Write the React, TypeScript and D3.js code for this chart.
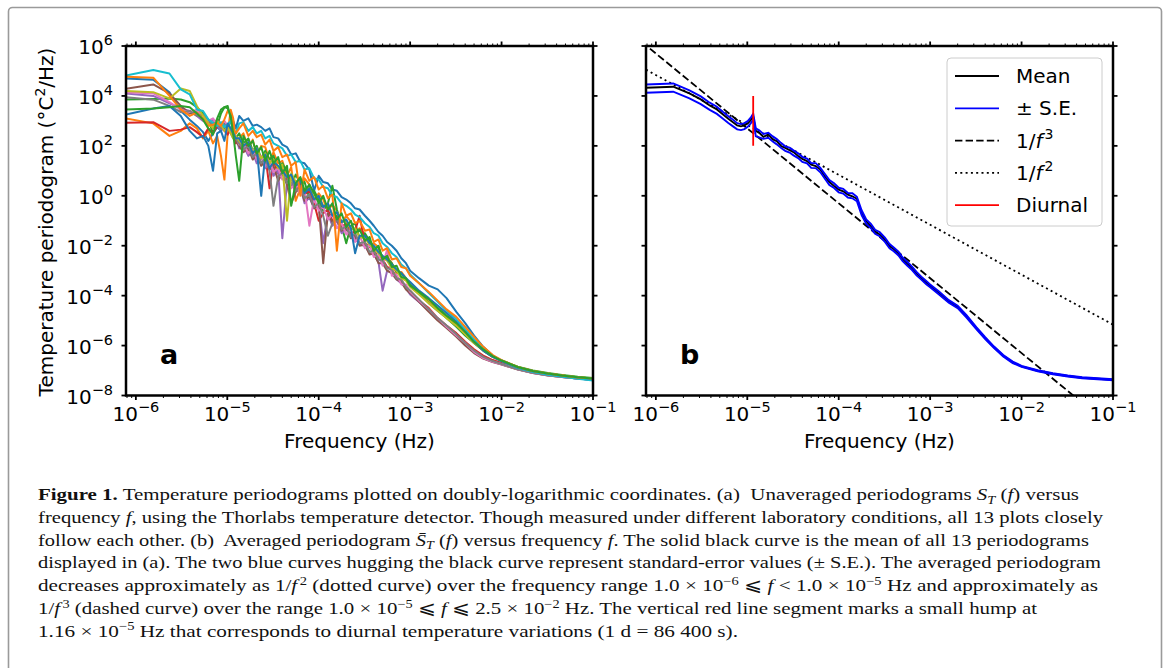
import React from 'react';
import * as d3 from 'd3';

// Frequencies (Hz) shared by every periodogram
const freq = [
  7.8e-7, 1.55e-6, 2.33e-6, 3.1e-6, 3.88e-6, 4.65e-6, 5.43e-6, 6.2e-6, 6.98e-6, 7.75e-6, 8.53e-6, 9.3e-6, 1.01e-5, 1.09e-5, 1.16e-5, 1.24e-5,
  1.35e-5, 1.5e-5, 1.7e-5, 1.9e-5, 2.1e-5, 2.35e-5, 2.6e-5, 2.9e-5, 3.2e-5, 3.6e-5, 4.0e-5, 4.5e-5, 5.0e-5, 5.6e-5, 6.3e-5, 7.0e-5, 7.9e-5, 8.9e-5, 1.0e-4, 1.12e-4,
  1.26e-4, 1.41e-4, 1.58e-4, 1.78e-4, 2.0e-4, 2.25e-4, 2.5e-4, 2.8e-4, 3.2e-4, 3.6e-4, 4.0e-4, 4.5e-4, 5.0e-4, 5.6e-4, 6.3e-4, 7.1e-4, 8.0e-4, 9.0e-4, 1.0e-3,
  1.25e-3, 1.6e-3, 2.0e-3, 2.5e-3, 3.2e-3, 4.0e-3, 5.0e-3, 6.3e-3, 8.0e-3, 1.0e-2, 1.5e-2, 2.2e-2, 3.2e-2, 4.6e-2, 6.8e-2, 1.0e-1,
];

// log10 of each unaveraged periodogram (°C²/Hz), panel a
const run01 = [4.7, 4.65, 4.15, 3.4, 3.05, 2.8, 2.55, 2.2, 2.5, 2.75, 2.6, 2.9, 2.8, 2.95, 3.0, 2.7,
  3.2, 3.0, 3.1, 2.8, 2.85, 2.75, 2.6, 2.7, 2.35, 2.3, 2.05, 1.95, 1.65, 1.7, 1.35, 1.3, 1.05, 0.2, 0.8, 0.55, 0.5, 0.25, 0.2, -0.05, -0.15, -0.3, -0.5, -0.55, -0.8, -1.0, -1.2, -1.45, -1.6, -1.85, -2.0, -2.2, -2.5, -2.7, -3.0,
  -3.3, -3.6, -3.75, -4.1, -4.65, -5.1, -5.6, -6.05, -6.4, -6.6, -6.88, -7.05, -7.16, -7.24, -7.32, -7.38];
const run02 = [3.1, 2.9, 2.4, 2.6, 2.9, 2.7, 2.3, 2.6, 2.1, 2.4, 1.6, 0.65, 2.5, 3.45, 3.1, 2.2,
  2.3, 2.5, 1.9, 2.25, 1.6, 2.0, 1.95, 1.4, 1.75, 1.3, 1.4, 0.8, 1.15, -0.2, 0.3, 0.7, 0.45, -0.2, 0.1, -0.15, -0.6, -0.35, -0.6, -1.1, -0.8, -1.05, -1.5, -1.3, -1.55, -2.0, -1.9, -2.05, -2.6, -2.45, -2.7, -3.1, -3.05, -3.3, -3.55,
  -3.85, -4.25, -4.55, -4.85, -5.15, -5.55, -5.9, -6.2, -6.45, -6.62, -6.88, -7.03, -7.13, -7.2, -7.27, -7.32];
const run03 = [3.86, 3.88, 3.9, 3.86, 3.75, 3.55, 3.3, 3.05, 2.5, 2.8, 3.3, 3.55, 3.6, 3.1, 2.5, 2.3,
  2.5, 2.1, 2.3, 1.8, 2.0, 1.5, 1.8, 1.45, 1.6, 1.0, 1.3, 0.95, 0.4, 0.85, 0.5, 0.55, -0.1, 0.2, -0.15, -0.6, -0.3, 0.4, -0.55, -1.2, -1.9, -1.2, -1.1, -1.7, -1.5, -1.8, -2.1, -2.05, -2.5, -2.5, -2.7, -3.05, -3.1, -3.35, -3.55,
  -3.9, -4.3, -4.6, -4.9, -5.25, -5.6, -5.9, -6.2, -6.45, -6.6, -6.85, -7.0, -7.1, -7.18, -7.25, -7.3];
const run04 = [2.93, 2.95, 2.6, 2.65, 2.75, 2.55, 2.35, 2.7, 2.5, 2.8, 2.9, 2.6, 2.45, 2.7, 2.4, 2.1,
  2.2, 1.9, 2.05, 1.6, 1.85, 1.5, 1.65, 0.3, 1.4, 0.9, 1.1, 0.6, 0.85, 0.3, 0.5, 0.05, 0.2, -0.3, -1.0, -0.7, -0.55, -1.0, -0.8, -1.25, -1.1, -1.55, -1.4, -0.8, -1.9, -2.05, -2.2, -2.45, -2.55, -2.85, -2.95, -3.25, -3.4, -3.65, -3.8,
  -4.2, -4.5, -4.9, -5.2, -5.5, -5.85, -6.15, -6.4, -6.58, -6.7, -6.92, -7.07, -7.17, -7.24, -7.3, -7.36];
const run05 = [4.1, 4.0, 3.7, 3.5, 3.4, 3.2, 3.0, 2.9, 3.05, 2.85, 2.6, 2.75, 2.8, 2.5, 2.3, 2.35,
  1.9, 2.0, 1.6, 1.75, 1.3, 1.55, 1.1, 1.35, 0.8, 1.05, -1.7, 0.6, 0.5, 0.2, 0.35, -0.3, -0.05, -0.5, -0.4, -1.9, -0.7, -1.2, -1.0, -1.5, -1.3, -1.65, -1.7, -1.95, -2.0, -2.3, -2.35, -2.65, -3.8, -3.0, -3.1, -3.35, -3.5, -3.7, -3.95,
  -4.25, -4.6, -4.95, -5.25, -5.6, -5.95, -6.25, -6.5, -6.65, -6.75, -6.95, -7.1, -7.19, -7.26, -7.32, -7.37];
const run06 = [4.29, 4.46, 4.1, 3.6, 3.3, 3.35, 3.1, 3.0, 2.9, 3.05, 2.8, 2.7, 2.85, 2.6, 2.4, 2.2,
  2.0, 1.75, 1.9, 1.45, 1.65, 1.2, 1.4, 1.05, 1.2, 0.6, 0.9, 0.45, -0.3, 0.15, 0.3, -0.2, 0.0, -0.5, -0.35, -2.7, -0.7, -1.05, -0.95, -1.4, -1.3, -1.7, -1.6, -2.0, -1.95, -2.35, -2.3, -2.7, -2.7, -3.0, -3.1, -3.35, -3.45, -3.75, -3.9,
  -4.25, -4.65, -5.0, -5.3, -5.65, -6.0, -6.3, -6.52, -6.66, -6.76, -6.96, -7.1, -7.2, -7.26, -7.32, -7.37];
const run07 = [4.15, 4.1, 3.75, 3.45, 3.35, 3.45, 3.2, 3.0, 3.1, 2.85, 2.9, 3.0, 2.8, 2.65, 2.55, 2.4,
  2.05, 2.1, 1.7, 1.85, 1.45, 1.6, 1.2, 1.4, 0.95, 1.1, 0.65, 0.8, 0.3, 0.5, 0.05, 0.25, -1.2, -0.1, -0.6, -0.45, -0.95, -0.75, -1.3, -1.1, -1.55, -1.35, -1.85, -1.6, -2.1, -1.95, -2.45, -2.35, -2.8, -2.15, -3.2, -3.15, -3.55, -3.55, -3.85,
  -4.2, -4.55, -4.9, -5.25, -5.6, -5.9, -6.25, -6.5, -6.65, -6.75, -6.95, -7.09, -7.19, -7.26, -7.32, -7.37];
const run08 = [3.95, 3.85, 3.6, 3.35, 3.4, 3.2, 3.25, 3.05, 2.8, 2.9, 2.7, 2.85, 2.75, 2.55, 2.6, 2.3,
  2.1, 1.85, 2.0, 1.55, 1.7, 1.3, 1.5, 1.0, -0.4, 0.75, 0.95, 0.5, 0.7, 0.2, 0.4, -0.1, 0.05, -0.45, -0.3, -0.8, -1.6, -1.1, -0.9, -1.35, -1.2, -1.65, -1.5, -1.9, -1.85, -2.25, -2.2, -2.55, -2.6, -2.9, -2.95, -3.3, -3.35, -3.65, -3.8,
  -4.15, -4.55, -4.9, -5.2, -5.55, -5.9, -6.2, -6.45, -6.62, -6.74, -6.95, -7.09, -7.19, -7.26, -7.32, -7.37];
const run09 = [4.2, 4.15, 3.9, 4.3, 4.2, 3.6, 3.2, 2.9, 2.7, 3.0, 2.85, 2.6, 2.75, 2.5, 2.3, 2.4,
  2.2, 2.0, 2.15, 1.75, 1.9, 1.5, 1.7, 1.3, 1.45, 1.1, 1.25, -1.0, 0.9, 0.55, 0.7, 0.2, 0.35, -0.1, 0.0, -0.4, -0.3, -0.75, -0.65, -1.05, -1.0, -1.35, -1.3, -1.65, -1.7, -1.95, -2.1, -2.3, -2.5, -2.6, -2.9, -3.0, -3.3, -3.4, -3.65,
  -3.95, -4.3, -4.6, -4.9, -5.2, -5.55, -5.9, -6.15, -6.42, -6.6, -6.86, -7.02, -7.12, -7.2, -7.27, -7.32];
const run10 = [4.82, 5.04, 4.9, 4.26, 4.06, 3.46, 3.4, 3.06, 2.92, 2.8, 2.95, 2.75, 2.85, 3.0, 2.6, 2.5,
  2.9, 2.95, 2.6, 2.75, 2.5, 2.6, 2.3, 2.4, 2.1, 2.0, 1.9, 1.6, 1.65, 1.35, 1.4, 1.05, 1.1, 0.7, 0.65, 0.35, 0.3, 0.0, -0.05, -0.3, -0.4, -0.55, -0.75, -0.85, -1.1, -1.25, -1.5, -1.6, -1.9, -2.05, -2.3, -2.45, -2.75, -2.9, -3.15,
  -3.5, -3.9, -4.25, -4.6, -4.95, -5.35, -5.75, -6.15, -6.42, -6.62, -6.9, -7.06, -7.17, -7.25, -7.33, -7.4];
const run11 = [3.26, 3.5, 3.6, 3.2, 2.6, 2.3, 2.4, 2.0, 1.0, 2.5, 2.6, 2.2, 2.9, 2.7, 2.5, 2.3,
  2.3, 2.0, 2.15, 1.7, 1.9, 0.0, 1.65, 1.1, 1.35, 1.2, 1.0, 0.75, 0.85, 0.4, 0.6, 0.1, 0.3, -0.15, 0.0, -0.45, -0.3, -0.8, -0.65, -1.05, -0.95, -1.3, -2.3, -1.6, -1.6, -1.9, -2.0, -2.25, -2.4, -2.55, -2.75, -2.95, -3.1, -3.3, -3.45,
  -3.8, -4.1, -4.4, -4.7, -5.05, -5.45, -5.85, -6.2, -6.45, -6.62, -6.88, -7.03, -7.13, -7.21, -7.28, -7.33];
const run12 = [4.77, 4.73, 4.0, 3.46, 3.2, 3.33, 3.06, 2.8, 2.85, 2.92, 2.8, 3.06, 3.4, 3.33, 2.7, 2.5,
  2.7, 2.9, 2.4, 2.6, 2.35, 2.45, 2.05, 2.25, 1.8, 1.95, 1.55, 1.65, 1.2, 1.35, 0.0, 1.05, 0.6, 0.75, 0.25, 0.4, -0.1, 0.05, -2.2, -0.3, -0.8, -0.7, -1.1, -1.0, -1.4, -1.35, -1.85, -1.75, -2.2, -2.1, -2.55, -2.5, -2.85, -2.9, -3.2,
  -3.5, -3.85, -4.2, -4.55, -4.85, -5.25, -5.65, -6.05, -6.38, -6.58, -6.86, -7.02, -7.12, -7.2, -7.28, -7.32];
const run13 = [3.46, 3.5, 3.55, 3.6, 3.55, 3.3, 3.05, 2.7, 2.45, 3.1, 3.45, 3.55, 3.5, 3.2, 2.5, 1.6,
  0.6, 2.4, 2.0, 2.2, 1.7, 1.95, 1.4, 1.8, 1.3, 1.55, 0.9, 1.2, -0.4, 0.5, 0.75, 0.2, 0.45, 0.1, -0.3, 0.0, -0.55, -0.3, -0.95, -0.7, -1.25, -1.0, -1.5, -1.35, -1.8, -1.65, -2.2, -2.0, -2.55, -2.4, -2.85, -2.8, -3.25, -3.3, -3.6,
  -3.85, -4.15, -4.5, -4.8, -5.1, -5.45, -5.85, -6.15, -6.42, -6.6, -6.86, -7.02, -7.12, -7.2, -7.27, -7.32];

const runs = [run01, run02, run03, run04, run05, run06, run07, run08, run09, run10, run11, run12, run13];
const runColors = ['#1f77b4', '#ff7f0e', '#2ca02c', '#d62728', '#9467bd', '#8c564b', '#e377c2',
  '#7f7f7f', '#bcbd22', '#17becf', '#1f77b4', '#ff7f0e', '#2ca02c'];

// log10 of averaged periodogram and ± standard error, panel b
const meanLog = [4.33, 4.37, 4.1, 3.86, 3.62, 3.46, 3.26, 3.09, 2.95, 2.82, 2.78, 2.82, 2.9, 3.03, 3.17, 2.6,
  2.52, 2.36, 2.46, 2.26, 2.19, 1.99, 1.92, 1.83, 1.75, 1.59, 1.48, 1.39, 1.25, 1.19, 1.05, 0.79, 0.55, 0.39, 0.25, 0.18, 0.05, -0.02, -0.12, -0.68, -1.02, -1.22, -1.42, -1.55, -1.75, -2.02, -2.13, -2.32, -2.53, -2.72, -2.89, -3.12, -3.29, -3.47, -3.6,
  -3.89, -4.23, -4.45, -4.83, -5.3, -5.7, -6.07, -6.41, -6.67, -6.83, -7.01, -7.13, -7.22, -7.29, -7.33, -7.37];
const seUpperLog = [4.46, 4.5, 4.22, 3.98, 3.73, 3.57, 3.36, 3.19, 3.05, 2.91, 2.87, 2.91, 2.99, 3.13, 3.29, 2.7,
  2.62, 2.48, 2.52, 2.38, 2.27, 2.11, 1.98, 1.93, 1.82, 1.7, 1.56, 1.49, 1.31, 1.31, 1.12, 0.89, 0.63, 0.5, 0.32, 0.28, 0.11, 0.1, -0.04, -0.58, -0.95, -1.13, -1.36, -1.45, -1.68, -1.93, -2.07, -2.24, -2.47, -2.64, -2.83, -3.05, -3.24, -3.4, -3.55,
  -3.83, -4.18, -4.4, -4.78, -5.26, -5.66, -6.04, -6.38, -6.64, -6.81, -6.99, -7.11, -7.2, -7.27, -7.31, -7.35];
const seLowerLog = [4.13, 4.17, 3.9, 3.67, 3.44, 3.28, 3.09, 2.92, 2.78, 2.66, 2.63, 2.67, 2.76, 2.9, 3.05, 2.38,
  2.34, 2.28, 2.32, 2.17, 2.06, 1.91, 1.8, 1.73, 1.62, 1.51, 1.36, 1.3, 1.12, 1.11, 0.94, 0.7, 0.43, 0.31, 0.14, 0.09, -0.07, -0.1, -0.22, -0.77, -1.13, -1.3, -1.52, -1.62, -1.85, -2.1, -2.22, -2.39, -2.62, -2.79, -2.97, -3.19, -3.36, -3.53, -3.66,
  -3.95, -4.28, -4.5, -4.88, -5.34, -5.74, -6.1, -6.44, -6.7, -6.85, -7.03, -7.15, -7.24, -7.31, -7.35, -7.39];

// reference power laws and the diurnal marker: [frequency, value]
const invCube = [[7.0e-7, 1.46e6], [4.0e-2, 7.8e-9]];
const invSquare = [[7.8e-7, 1.13e5], [1.0e-1, 6.9e-6]];
const diurnal = [[1.16e-5, 1e2], [1.16e-5, 1e4]];

const xDomain = [7.8e-7, 1e-1];
const yDomain = [1e-8, 1e6];
const xTickExps = [-6, -5, -4, -3, -2, -1];
const yTickExps = [6, 4, 2, 0, -2, -4, -6, -8];

const legendItems = [
  { label: 'Mean', color: '#000000', dash: '' },
  { label: '± S.E.', color: '#0000ff', dash: '' },
  { label: 'inv3', color: '#000000', dash: '7.4,3.2' },
  { label: 'inv2', color: '#000000', dash: '2,3.3' },
  { label: 'Diurnal', color: '#ff0000', dash: '' },
];

type Seg = [string, string?];
const captionLines: Seg[][] = [
  [['Figure 1.', 'b'], [' Temperature periodograms plotted on doubly-logarithmic coordinates. (a)  Unaveraged periodograms '], ['S', 'i'], ['T', 'sub'], [' ('], ['f', 'i'], [') versus']],
  [['frequency '], ['f', 'i'], [', using the Thorlabs temperature detector. Though measured under different laboratory conditions, all 13 plots closely']],
  [['follow each other. (b)  Averaged periodogram '], ['S\u0304', 'i'], ['T', 'sub'], [' ('], ['f', 'i'], [') versus frequency '], ['f', 'i'], ['. The solid black curve is the mean of all 13 periodograms']],
  [['displayed in (a). The two blue curves hugging the black curve represent standard-error values (± S.E.). The averaged periodogram']],
  [['decreases approximately as 1/'], ['f', 'i'], ['2', 'sup'], [' (dotted curve) over the frequency range 1.0 × 10'], ['−6', 'sup'], [' ⩽ '], ['f', 'i'], [' < 1.0 × 10'], ['−5', 'sup'], [' Hz and approximately as']],
  [['1/'], ['f', 'i'], ['3', 'sup'], [' (dashed curve) over the range 1.0 × 10'], ['−5', 'sup'], [' ⩽ '], ['f', 'i'], [' ⩽ 2.5 × 10'], ['−2', 'sup'], [' Hz. The vertical red line segment marks a small hump at']],
  [['1.16 × 10'], ['−5', 'sup'], [' Hz that corresponds to diurnal temperature variations (1 d = 86 400 s).']],
];
const captionWidths = [1041, 1065, 1051, 1063, 1060, 999, 700];

const W = 1170;
const H = 668;
const TOP = 46;
const PW = 467;
const PH = 349.5;
const FONT = 'DejaVu Sans, sans-serif';

const pow = (v: number) => Math.pow(10, v);

function Panel({ left, id, letter, yLabels, children }: any) {
  const x = d3.scaleLog().domain(xDomain).range([left, left + PW]);
  const y = d3.scaleLog().domain(yDomain).range([TOP + PH, TOP]);
  const bottom = TOP + PH;
  const minor = x.ticks().filter(t => Math.abs(Math.log10(t) - Math.round(Math.log10(t))) > 1e-6);
  const sup = (e: number) => (e < 0 ? '\u2212' + -e : String(e));
  return (
    <g>
      <defs>
        <clipPath id={id}>
          <rect x={left} y={TOP} width={PW} height={PH} />
        </clipPath>
      </defs>
      <g clipPath={`url(#${id})`}>{children(x, y)}</g>
      {minor.map((t, i) => (
        <g key={'m' + i} stroke="#000" strokeWidth={1}>
          <line x1={x(t)} x2={x(t)} y1={bottom} y2={bottom + 2.5} />
          <line x1={x(t)} x2={x(t)} y1={TOP} y2={TOP - 2.5} />
        </g>
      ))}
      {xTickExps.map(e => (
        <g key={'x' + e}>
          <line x1={x(pow(e))} x2={x(pow(e))} y1={bottom} y2={bottom + 4.5} stroke="#000" strokeWidth={1.8} />
          <line x1={x(pow(e))} x2={x(pow(e))} y1={TOP} y2={TOP - 4.5} stroke="#000" strokeWidth={1.8} />
          <text x={x(pow(e))} y={bottom + 25.5} textAnchor="middle" fontSize={20} fontFamily={FONT}>
            10<tspan dy={-9} fontSize={14.5}>{sup(e)}</tspan>
          </text>
        </g>
      ))}
      {yTickExps.map(e => (
        <g key={'y' + e}>
          <line x1={left} x2={left - 4.5} y1={y(pow(e))} y2={y(pow(e))} stroke="#000" strokeWidth={1.8} />
          <line x1={left + PW} x2={left + PW + 4.5} y1={y(pow(e))} y2={y(pow(e))} stroke="#000" strokeWidth={1.8} />
          {yLabels && (
            <text x={left - 13} y={y(pow(e)) + 8} textAnchor="end" fontSize={20} fontFamily={FONT}>
              10<tspan dy={-9} fontSize={14.5}>{sup(e)}</tspan>
            </text>
          )}
        </g>
      ))}
      <rect x={left} y={TOP} width={PW} height={PH} fill="none" stroke="#000" strokeWidth={2.5} />
      <text x={left + 34} y={364} fontSize={27} fontWeight="bold" fontFamily={FONT}>{letter}</text>
      <text x={left + PW / 2} y={448} textAnchor="middle" fontSize={20} fontFamily={FONT}>Frequency (Hz)</text>
    </g>
  );
}

function Caption() {
  return (
    <g fontFamily="Liberation Serif, serif" fontSize={17.5} fill="#111">
      {captionLines.map((segs, li) => {
        let shift = 0;
        return (
          <text key={li} x={38} y={500 + li * 22.8} textLength={captionWidths[li]} lengthAdjust="spacingAndGlyphs" style={{ whiteSpace: 'pre' }}>
            {segs.map(([t, s], si) => {
              const target = s === 'sup' ? -6.5 : s === 'sub' ? 3.5 : 0;
              const dy = target - shift;
              shift = target;
              const afterItalic = si > 0 && segs[si - 1][1] === 'i';
              return (
                <tspan key={si} dy={dy} dx={s === 'sup' && afterItalic ? 2 : undefined}
                  fontWeight={s === 'b' ? 'bold' : undefined}
                  fontStyle={s === 'i' || s === 'sub' ? 'italic' : undefined}
                  fontSize={s === 'sup' || s === 'sub' ? 12 : undefined}>{t}</tspan>
              );
            })}
          </text>
        );
      })}
    </g>
  );
}

export default function App() {
  const line = (x: any, y: any) => d3.line<number[]>().x(d => x(d[0])).y(d => y(d[1]));
  const toPts = (vals: number[]) => freq.map((f, i) => [f, pow(vals[i])]);

  return (
    <svg width={W} height={H} style={{ position: 'absolute', left: 0, top: 0, background: '#fff' }}>
      <rect x={8.5} y={7.5} width={1153} height={700} rx={4} fill="#fff" stroke="#9a9a9a" strokeWidth={1.6} />

      <Panel left={126} id="clipA" letter="a" yLabels>
        {(x: any, y: any) => runs.map((r, i) => (
          <path key={i} d={line(x, y)(toPts(r)) || ''} fill="none" stroke={runColors[i]} strokeWidth={2} strokeLinejoin="round" />
        ))}
      </Panel>

      <Panel left={646} id="clipB" letter="b" yLabels={false}>
        {(x: any, y: any) => (
          <g fill="none">
            <path d={line(x, y)(invSquare) || ''} stroke="#000" strokeWidth={1.8} strokeDasharray="2,3.3" />
            <path d={line(x, y)(invCube) || ''} stroke="#000" strokeWidth={1.8} strokeDasharray="7.4,3.2" />
            <path d={line(x, y)(toPts(meanLog)) || ''} stroke="#000" strokeWidth={1.9} />
            <path d={line(x, y)(toPts(seUpperLog)) || ''} stroke="#0000ff" strokeWidth={1.9} />
            <path d={line(x, y)(toPts(seLowerLog)) || ''} stroke="#0000ff" strokeWidth={1.9} />
            <path d={line(x, y)(diurnal) || ''} stroke="#ff0000" strokeWidth={1.8} />
          </g>
        )}
      </Panel>

      {/* y axis title */}
      <text transform="translate(53,222) rotate(-90)" textAnchor="middle" fontSize={20} fontFamily={FONT}>
        Temperature periodogram (°C<tspan dy={-8} fontSize={14}>2</tspan><tspan dy={8}>/Hz)</tspan>
      </text>

      {/* legend */}
      <g fontFamily={FONT} fontSize={20}>
        <rect x={947} y={58} width={155} height={168} rx={4} fill="#fff" fillOpacity={0.8} stroke="#cccccc" strokeWidth={1} />
        {legendItems.map((it, i) => {
          const cy = 76 + i * 32.3;
          return (
            <g key={i}>
              <line x1={955} x2={999} y1={cy} y2={cy} stroke={it.color} strokeWidth={1.8} strokeDasharray={it.dash || undefined} />
              <text x={1016} y={cy + 7}>
                {it.label === 'inv3' ? (
                  <>1/<tspan fontStyle="italic">f</tspan><tspan dx={2} dy={-9} fontSize={14}>3</tspan></>
                ) : it.label === 'inv2' ? (
                  <>1/<tspan fontStyle="italic">f</tspan><tspan dx={2} dy={-9} fontSize={14}>2</tspan></>
                ) : it.label}
              </text>
            </g>
          );
        })}
      </g>

      <Caption />
    </svg>
  );
}
